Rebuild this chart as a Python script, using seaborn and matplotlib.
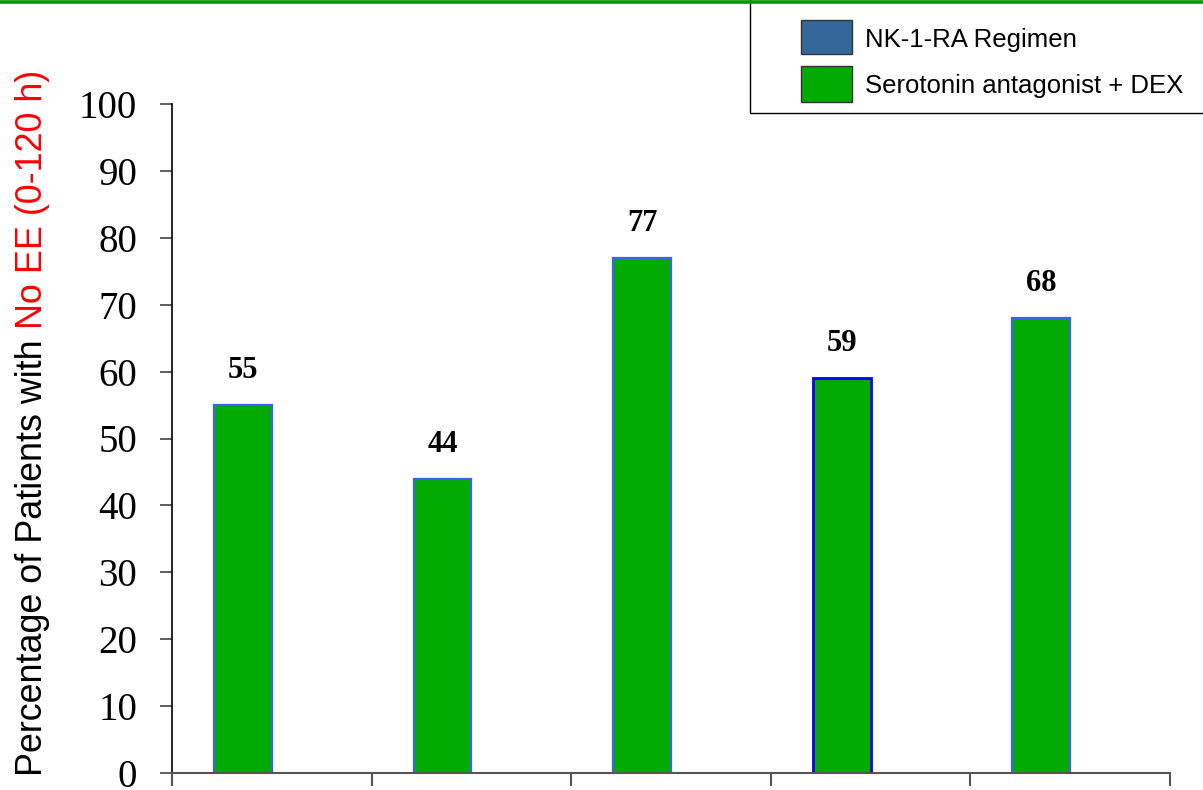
import matplotlib
matplotlib.use("Agg")
import matplotlib.pyplot as plt
from matplotlib.lines import Line2D
from matplotlib.patches import Rectangle
import seaborn as sns
import pandas as pd

studies = ["Study 1", "Study 2", "Study 3", "Study 4", "Study 5"]
serotonin_dex = [55, 44, 77, 59, 68]
series_names = ["NK-1-RA Regimen", "Serotonin antagonist + DEX"]
series_colors = ["#336699", "#00AA00"]
yticks = [0, 10, 20, 30, 40, 50, 60, 70, 80, 90, 100]

df = pd.DataFrame({"study": studies, "value": serotonin_dex,
                   "group": [series_names[1]] * len(studies)})

sns.set_theme(style="white")
plt.rcParams["font.family"] = ["Liberation Sans", "DejaVu Sans"]

W, H = 1203, 790
fig = plt.figure(figsize=(W / 100, H / 100), dpi=100)
ax = fig.add_axes([172 / W, 1 - 773 / H, (1170 - 172) / W, (773 - 104) / H])

sns.barplot(data=df, x="study", y="value", hue="group",
            hue_order=[series_names[1], series_names[0]],
            palette={series_names[1]: series_colors[1], series_names[0]: series_colors[0]},
            width=0.58, dodge=True, ax=ax, legend=False, saturation=1)

edge_cols = ["#3A63F0", "#3A63F0", "#3A63F0", "#0000EE", "#3A63F0"]
bars = [p for p in ax.patches if p.get_height() > 0]
for b, ec in zip(bars, edge_cols):
    b.set_edgecolor(ec)
    b.set_linewidth(2.0 if ec == "#0000EE" else 1.6)
    ax.annotate(f"{int(round(b.get_height()))}",
                (b.get_x() + b.get_width() / 2, b.get_height()),
                xytext=(0, 19.5), textcoords="offset points",
                ha="center", va="baseline", fontsize=22, fontweight="bold",
                family="Liberation Serif", color="black")

ax.set_xlim(-0.5, 4.5)
ax.set_ylim(0, 100)
ax.set_yticks(yticks)
ax.set_yticklabels([str(t) for t in yticks], family="Liberation Serif",
                   fontsize=28, color="black")
ax.set_xticks([-0.5, 0.5, 1.5, 2.5, 3.5, 4.5])
ax.set_xticklabels([])
ax.set_xlabel("")
ax.set_ylabel("")
for s in ["top", "right"]:
    ax.spines[s].set_visible(False)
ax.spines["left"].set_color("black")
ax.spines["bottom"].set_color("#555555")
ax.spines["left"].set_linewidth(1.2)
ax.spines["bottom"].set_linewidth(1.5)
ax.tick_params(axis="y", direction="out", length=8.6, width=1.2, color="#444444",
               pad=16.5, left=True)
ax.tick_params(axis="x", direction="out", length=9, width=1.5, color="#555555",
               bottom=True)

# y-axis label with two colours
t1 = fig.text(33 / W, 1 - 776 / H, "Percentage of Patients with ", rotation=90,
              ha="center", va="bottom", fontsize=25.8, color="black")
fig.canvas.draw()
bb = t1.get_window_extent()
fig.text(33 / W, bb.y1 / fig.bbox.height, "No EE (0-120 h)", rotation=90,
         ha="center", va="bottom", fontsize=25.8, color="red")

# legend box (drawn in figure pixels)
def fx(x):
    return x / W

def fy(y):
    return 1 - y / H

fig.add_artist(Rectangle((fx(750), fy(113)), fx(W + 20) - fx(750), fy(-10) - fy(113),
                         transform=fig.transFigure, facecolor="white",
                         edgecolor="black", lw=1.0, zorder=5))
for i, (name, col) in enumerate(zip(series_names, series_colors)):
    top, bot = [(20, 54), (66, 102)][i]
    fig.add_artist(Rectangle((fx(801), fy(bot)), fx(852) - fx(801), fy(top) - fy(bot),
                             transform=fig.transFigure, facecolor=col,
                             edgecolor="#333333", lw=1.0, zorder=6))
    fig.text(fx(865), fy((top + bot) / 2), name, ha="left", va="center_baseline",
             fontsize=18.5, color="black", zorder=7)

fig.add_artist(Line2D([0, 1], [fy(1.5), fy(1.5)], color="#009900", lw=2.6,
                      transform=fig.transFigure, zorder=10))

fig.savefig("out.png", dpi=100)
